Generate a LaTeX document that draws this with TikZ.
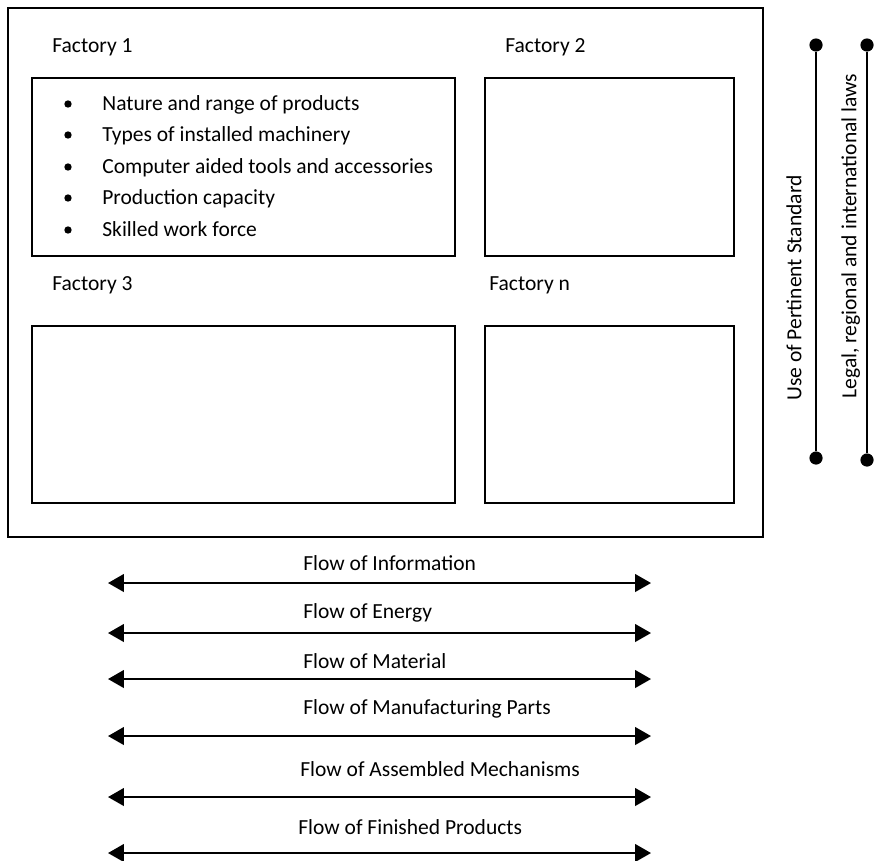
\documentclass[tikz,border=0pt]{standalone}
\usepackage{fontspec}
\setmainfont{Carlito}
\usetikzlibrary{arrows.meta}
\begin{document}
\begin{tikzpicture}[x=0.02cm,y=-0.02cm,
  box/.style={draw,line width=1.2pt},
  lbl/.style={anchor=west,inner sep=0,text height=0.72em,text depth=0.22em,font=\fontsize{12.25}{14}\selectfont},
  hl/.style={lbl,yshift=-1.2pt},
  flow/.style={{Triangle[length=9pt,width=10pt]}-{Triangle[length=9pt,width=10pt]},line width=1.1pt},
  dot/.style={circle,fill,inner sep=0,minimum size=7.5pt}]
\useasboundingbox (0,0) rectangle (874,860);
\draw[box] (8,8) rectangle (763,537);
\draw[box] (32,78) rectangle (455,256);
\draw[box] (485,78) rectangle (734,256);
\draw[box] (32,326) rectangle (455,503);
\draw[box] (485,326) rectangle (734,503);
\node[hl] (f1) at (52,46) {Factory 1};
\node[hl] (f2) at (505,46) {Factory 2};
\node[hl] (f3) at (52,284) {Factory 3};
\node[hl] (fn) at (489,284) {Factory n};
\foreach \y/\t [count=\i] in {104/Nature and range of products,135/Types of installed machinery,167/Computer aided tools and accessories,198/Production capacity,230/Skilled work force}{
  \node[circle,fill,inner sep=0,minimum size=4.2pt] (b\i) at (68,\y) {};
  \node[hl] (t\i) at (102,\y) {\t};
}
\node[dot] (u1) at (816,45) {};
\node[dot] (u2) at (816,458) {};
\draw[line width=1.1pt] (u1) -- (u2);
\node[dot] (l1) at (867,45) {};
\node[dot] (l2) at (867,460) {};
\draw[line width=1.1pt] (l1) -- (l2);
\node[lbl,anchor=center,rotate=90] (us) at (797,288) {Use of Pertinent Standard};
\node[lbl,anchor=center,rotate=90] (lg) at (852,236) {Legal, regional and international laws};
\foreach \ya/\yl/\x/\t [count=\i] in {583/564/303/Flow of Information,633/612/303/Flow of Energy,679/662/303/Flow of Material,736/708/303/Flow of Manufacturing Parts,797/770/300/Flow of Assembled Mechanisms,853/828/298/Flow of Finished Products}{
  \coordinate (a\i) at (108,\ya);
  \coordinate (c\i) at (651,\ya);
  \draw[flow] (a\i) -- (c\i);
  \node[hl] (fl\i) at (\x,\yl) {\t};
}
\end{tikzpicture}
\end{document}
